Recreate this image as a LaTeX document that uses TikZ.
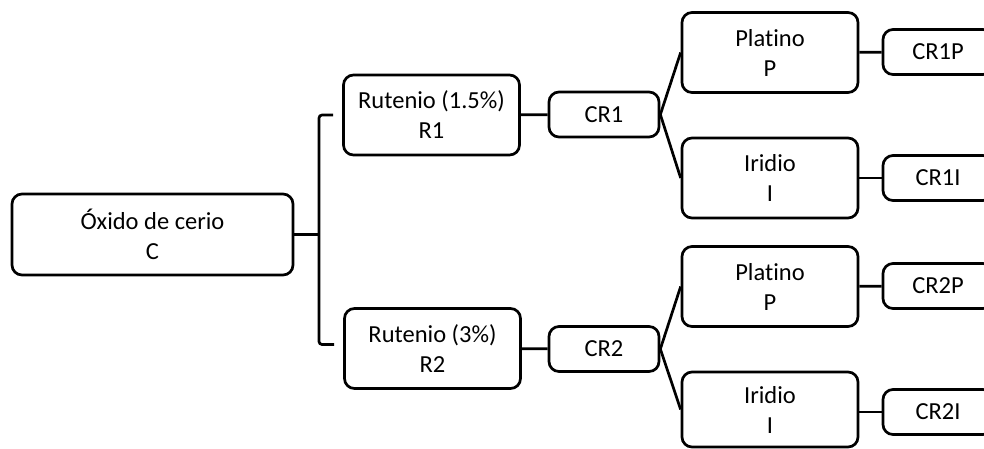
\documentclass[tikz,border=0pt]{standalone}
\usepackage{fontspec}
\setmainfont{Carlito}[Ligatures=NoCommon]
\begin{document}
\begin{tikzpicture}[x=1pt,y=-1pt,
  caja/.style={draw,line width=2.7pt,rounded corners=10pt,align=center,
    font=\fontsize{24.5}{30}\selectfont,inner sep=0pt},
  grande/.style={caja,minimum width=281pt,minimum height=81pt},
  media/.style={caja,minimum width=176pt,minimum height=80pt},
  chica/.style={caja,minimum width=110pt,minimum height=45pt},
  linea/.style={line width=2.7pt}]
\clip (0,0) rectangle (984,448);
\node [grande] (C) at (152.5,234.5) {Óxido de cerio\\C};
\node [media] (R1) at (431.5,115) {Rutenio (1.5\%)\\R1};
\node [media] (R2) at (432.5,348.5) {Rutenio (3\%)\\R2};
\node [chica] (CR1) at (604,114.5) {CR1};
\node [chica] (CR2) at (604,349) {CR2};
\node [media] (P1) at (770,52.5) {Platino\\P};
\node [media] (I1) at (770,178) {Iridio\\I};
\node [media] (P2) at (770,286.5) {Platino\\P};
\node [media,minimum height=75pt] (I2) at (770,409.5) {Iridio\\I};
\node [chica] (CR1P) at (938,52) {CR1P};
\node [chica] (CR1I) at (938,178) {CR1I};
\node [chica] (CR2P) at (938,286) {CR2P};
\node [chica] (CR2I) at (938,412) {CR2I};
\coordinate (llave) at (319,234.5);
\draw [linea](C.east) -- (llave);
\draw [linea,rounded corners=3pt]([xshift=-9pt]R1.west) -| (llave) |- ([xshift=-9pt,yshift=4pt]R2.west);
\draw [linea](R1) -- (CR1);
\draw [linea](R2) -- (CR2);
\draw [linea](P1.west) -- (CR1.east) -- (I1.west);
\draw [linea](P2.west) -- (CR2.east) -- (I2.west);
\draw [linea](P1) -- (CR1P);
\draw [linea](I1) -- (CR1I);
\draw [linea](P2) -- (CR2P);
\draw [linea](I2.east |- CR2I) -- (CR2I);
\end{tikzpicture}
\end{document}
